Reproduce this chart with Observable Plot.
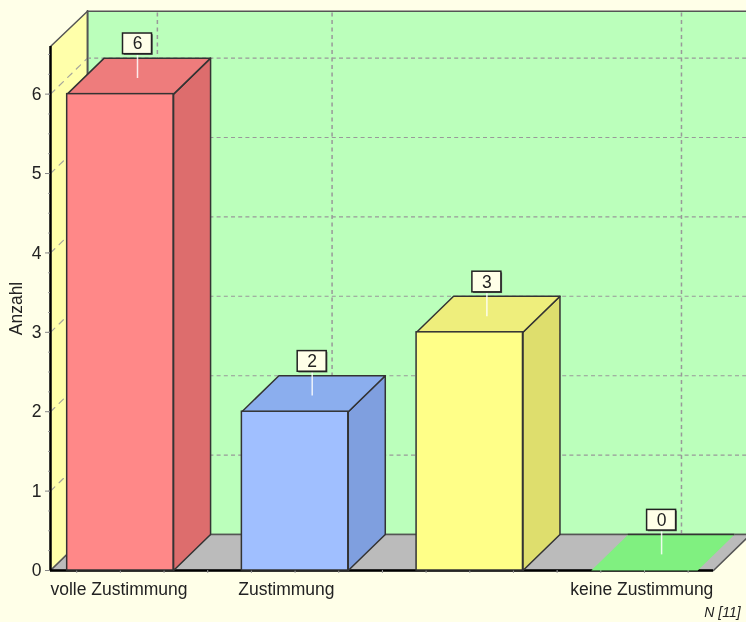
<!DOCTYPE html>
<html><head><meta charset="utf-8">
<script src="https://cdn.jsdelivr.net/npm/d3@7"></script>
<script src="https://cdn.jsdelivr.net/npm/@observablehq/plot@0.6"></script>
<style>html,body{margin:0;padding:0;background:#ffffe8;overflow:hidden}svg{display:block}</style>
</head><body><div id="chart"></div>
<script>
const categories = ["volle Zustimmung", "Zustimmung", "", "keine Zustimmung"];
const values = [6, 2, 3, 0];
const frontColors = ["#ff8888", "#a0bfff", "#ffff88", "#80f080"];
const topColors = ["#ee7c7c", "#8baeee", "#eeee7c", "#80f080"];
const sideColors = ["#dd6d6d", "#7f9fdf", "#dede6d", "#70d870"];
const yMajor = [0, 1, 2, 3, 4, 5, 6];
const yMinor = d3.range(0, 6.51, 0.25);
const xMinor = d3.range(-0.25, 3.26, 0.25);
const labelShift = [-0.008, -0.05, 0, -0.015];

// 3-D projection, in scale units
const xMin = -0.4, xFloorEnd = 3.395, yMax = 6.6;
const depthX = 0.2118, depthY = 0.4535, half = 0.3045, boxShift = 0.098;
const xWallEnd = xFloorEnd + depthX;

const poly = (id, fill, pts) => [...pts, pts[0]].map(([x, y]) => ({id, fill, x, y}));
const shape = (rows, opts = {}) => Plot.line(rows, {x: "x", y: "y", z: "id", fill: "fill", stroke: "#333", strokeWidth: 1.5, curve: "linear", ...opts});

const walls = [
  ...poly("back", "#bbffbb", [[xMin + depthX, depthY], [xWallEnd, depthY], [xWallEnd, yMax + depthY - 0.01], [xMin + depthX, yMax + depthY - 0.01]]),
  ...poly("left", "#ffffaa", [[xMin, 0], [xMin + depthX, depthY], [xMin + depthX, yMax + depthY - 0.01], [xMin, yMax]]),
  ...poly("floor", "#bbbbbb", [[xMin, 0], [xMin + depthX, depthY], [xWallEnd, depthY], [xFloorEnd, 0]])
];

const sides = [], tops = [], fronts = [], boxes = [], zeroTops = [], zeroEdges = [];
values.forEach((v, i) => {
  const a = i - half, b = i + half;
  if (v > 0) {
    sides.push(...poly("s" + i, sideColors[i], [[b, 0], [b + depthX, depthY], [b + depthX, v + depthY], [b, v]]));
    tops.push(...poly("t" + i, topColors[i], [[a, v], [b, v], [b + depthX, v + depthY], [a + depthX, v + depthY]]));
    fronts.push({x1: a, x2: b, y1: 0, y2: v, fill: frontColors[i]});
  } else {
    zeroTops.push(...poly("z" + i, topColors[i], [[a, 0], [b, 0], [b + depthX, depthY], [a + depthX, depthY]]));
    zeroEdges.push({x1: a + depthX, x2: b + depthX});
  }
  boxes.push({
    v, cx: i + boxShift,
    x1: i + boxShift - 0.083, x2: i + boxShift + 0.083,
    y1: v + depthY + 0.05, y2: v + depthY + 0.31,
    stemEnd: v + depthY / 2 - 0.03
  });
});

// vertical grid only where a category has a label
const backV = categories.flatMap((c, i) => c ? [i + depthX] : []);
const leftDash = yMajor.slice(1).flatMap(v => [{v, x: xMin, y: v}, {v, x: xMin + depthX, y: v + depthY}]);
const xLabels = categories.map((text, i) => ({text, x: i + labelShift[i]})).filter(d => d.text);

const chart = Plot.plot({
  width: 746, height: 622,
  marginLeft: 50, marginRight: 0, marginTop: 46, marginBottom: 52,
  x: {type: "linear", domain: [xMin, 3.584]},
  y: {domain: [0, yMax]},
  style: {background: "#ffffe8", fontFamily: "'Liberation Sans', Arial, sans-serif", fontSize: "17.5px", color: "#222", filter: "blur(0.35px)"},
  marks: [
    shape(walls, {stroke: "#555"}),
    Plot.ruleX(backV, {y1: depthY, y2: yMax + depthY, stroke: "#999", strokeWidth: 1.5, strokeDasharray: "4,3.5"}),
    Plot.ruleY(yMajor.slice(1), {y: v => v + depthY, x1: xMin + depthX, x2: xWallEnd, stroke: "#999", strokeWidth: 1.1, strokeDasharray: "4,3.2"}),
    Plot.line(leftDash, {x: "x", y: "y", z: "v", stroke: "#a5a59c", strokeWidth: 1.2, strokeDasharray: "6,6"}),
    Plot.ruleX([xMin + depthX], {y1: depthY, y2: yMax + depthY, stroke: "#555", strokeWidth: 1.5}),
    Plot.ruleY([0], {x1: xMin, x2: xFloorEnd, stroke: "#000", strokeWidth: 2.4}),
    Plot.ruleX([xMin], {y1: 0, y2: yMax, stroke: "#000", strokeWidth: 2.4}),
    Plot.axisX({ticks: xMinor, tickSize: 3, tickFormat: () => null, label: null, stroke: "#999"}),
    Plot.axisY({ticks: yMinor, tickSize: 2, tickFormat: () => null, label: null, stroke: "#999"}),
    Plot.axisY({ticks: yMajor, tickSize: 5, tickPadding: 4, tickFormat: "d", stroke: "#888", fill: "#222", label: "Anzahl", labelAnchor: "center", labelArrow: "none", labelOffset: 41}),
    shape(zeroTops, {stroke: null}),
    Plot.ruleY(zeroEdges, {y: depthY, x1: "x1", x2: "x2", stroke: "#333", strokeWidth: 1.5}),
    shape(sides),
    shape(tops),
    Plot.rect(fronts, {x1: "x1", x2: "x2", y1: "y1", y2: "y2", fill: "fill", stroke: "#333", strokeWidth: 1.5}),
    Plot.ruleX(boxes, {x: "cx", y1: "y1", y2: "stemEnd", stroke: "#fff", strokeWidth: 1.5, strokeOpacity: 0.85}),
    Plot.rect(boxes, {x1: "x1", x2: "x2", y1: "y1", y2: "y2", dx: 1.2, dy: 1.2, fill: "#555"}),
    Plot.rect(boxes, {x1: "x1", x2: "x2", y1: "y1", y2: "y2", fill: "#ffffe8", stroke: "#222", strokeWidth: 1.5}),
    Plot.text(boxes, {x: "cx", y: d => (d.y1 + d.y2) / 2, text: d => String(d.v), fill: "#222"}),
    Plot.text(xLabels, {x: "x", y: -0.24, text: "text", fill: "#222"}),
    Plot.text(["N [11]"], {x: 3.55, y: -0.53, text: d => d, textAnchor: "end", fontStyle: "italic", fontSize: 14, fill: "#222"})
  ]
});
document.getElementById("chart").append(chart);
</script></body></html>
